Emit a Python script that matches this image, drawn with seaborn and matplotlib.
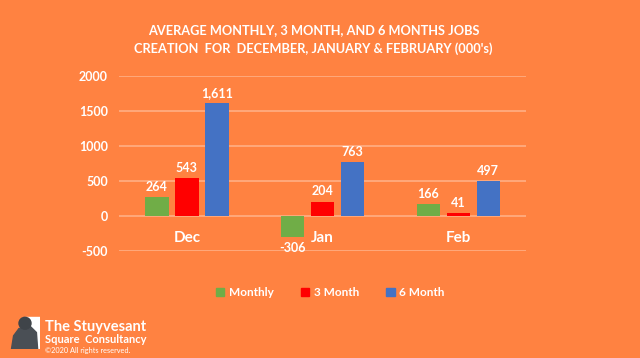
import numpy as np
import pandas as pd
import matplotlib
matplotlib.use("Agg")
import matplotlib.pyplot as plt
from matplotlib.patches import Rectangle, Ellipse, Polygon
import seaborn as sns

# data (000's of jobs)
months = ["Dec", "Jan", "Feb"]
monthly = [264, -306, 166]
three_month = [543, 204, 41]
six_month = [1611, 763, 497]
series = ["Monthly", "3 Month", "6 Month"]
yticks = [-500, 0, 500, 1000, 1500, 2000]

bg = "#FF8241"
grid_c = "#FFAB80"
palette = {"Monthly": "#70AD47", "3 Month": "#FF0000", "6 Month": "#4472C4"}
W = "bold"

df = pd.DataFrame({
    "Month": months * 3,
    "Series": [s for s in series for _ in months],
    "Value": monthly + three_month + six_month,
})

sns.set_theme(style="white")
plt.rcParams["font.family"] = ["Lato", "DejaVu Sans"]

fig = plt.figure(figsize=(6.4, 3.58), dpi=100, facecolor=bg)
ax = fig.add_axes([0.186, 0.299, 0.636, 0.490], facecolor=bg)

sns.barplot(data=df, x="Month", y="Value", hue="Series", hue_order=series,
            order=months, palette=palette, width=0.663, gap=0.22,
            saturation=1, linewidth=0, ax=ax, legend=False)

for c in ax.containers:
    ax.bar_label(c, labels=[f"{v:,.0f}" for v in c.datavalues], padding=3,
                 color="white", fontsize=9, fontweight=W)

# category labels sit on the zero line (spine moved first, it resets ticks)
for s in ax.spines.values():
    s.set_visible(False)
ax.spines["bottom"].set_position(("data", 0))

ax.set_ylim(-500, 2000)
ax.set_yticks(yticks)
ax.set_yticklabels([str(t) for t in yticks], color="white", fontsize=9, fontweight=W)
ax.set_xticks(range(len(months)))
ax.set_xticklabels(months, color="white", fontsize=11, fontweight=W)
ax.yaxis.grid(True, color=grid_c, linewidth=1.3)
ax.set_axisbelow(True)
ax.tick_params(axis="y", length=0, pad=8)
ax.tick_params(axis="x", length=0, pad=11)
ax.set_xlabel("")
ax.set_ylabel("")

fig.text(0.49, 0.915, "AVERAGE MONTHLY, 3 MONTH, AND 6 MONTHS JOBS",
         ha="center", va="center", color="white", fontsize=9.2, fontweight=W)
fig.text(0.49, 0.865, "CREATION  FOR  DECEMBER, JANUARY & FEBRUARY (000's)",
         ha="center", va="center", color="white", fontsize=9.2, fontweight=W)

handles = [Rectangle((0, 0), 1, 1, color=palette[s]) for s in series]
fig.legend(handles, series, loc="center", bbox_to_anchor=(0.516, 0.182), ncol=3,
           frameon=False, handlelength=0.7, handleheight=0.7, handletextpad=0.4,
           columnspacing=2.3, prop={"weight": W, "size": 8.5}, labelcolor="white")

# logo
lax = fig.add_axes([10 / 640, 9 / 358, 30 / 640, 33 / 358], facecolor=bg)
lax.set_xlim(0, 1)
lax.set_ylim(0, 1)
lax.axis("off")
lax.add_patch(Rectangle((0.5, 0.0), 0.5, 0.97, color="white"))
lax.add_patch(Polygon([[0.05, 0.0], [0.92, 0.0], [0.88, 0.5], [0.68, 0.68], [0.3, 0.62], [0.12, 0.4]],
                      color="#4a4f55"))
lax.add_patch(Ellipse((0.5, 0.78), 0.4, 0.36, color="#3f4449"))

fig.text(0.07, 0.087, "The Stuyvesant", color="white", fontsize=10.5, fontweight=W, va="center")
fig.text(0.07, 0.053, "Square  Consultancy", color="white", fontsize=8, fontweight=W, va="center")
fig.text(0.07, 0.022, "\u00a92020 All rights reserved.", color="white", fontsize=5.3, va="center")

fig.savefig("out.png", dpi=100, facecolor=bg)
